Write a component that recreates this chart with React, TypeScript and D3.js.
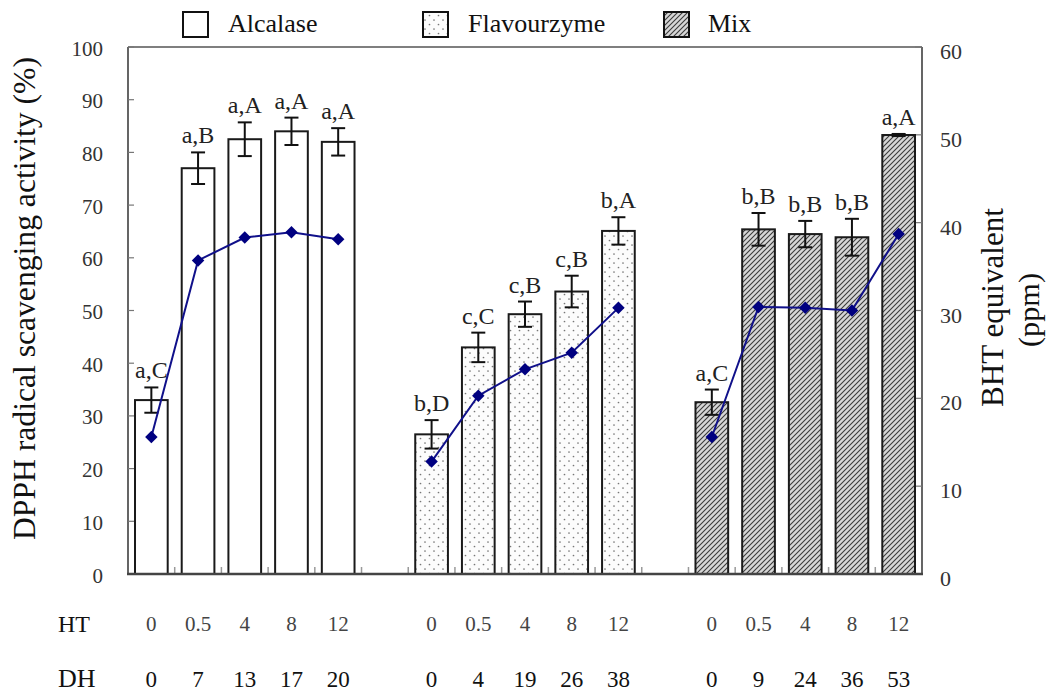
import React from "react";
import * as d3 from "d3";

// ---- data ----
const groups = ["Alcalase", "Flavourzyme", "Mix"];
const htLabels = ["0", "0.5", "4", "8", "12"];
const dhAlcalase = ["0", "7", "13", "17", "20"];
const dhFlavourzyme = ["0", "4", "19", "26", "38"];
const dhMix = ["0", "9", "24", "36", "53"];

const dpphAlcalase = [33, 77, 82.5, 84, 82];
const dpphFlavourzyme = [26.5, 43, 49.3, 53.6, 65.1];
const dpphMix = [32.6, 65.4, 64.5, 63.9, 83.3];

const errAlcalase = [2.4, 3.0, 3.2, 2.6, 2.6];
const errFlavourzyme = [2.7, 2.8, 2.4, 3.0, 2.6];
const errMix = [2.4, 3.1, 2.5, 3.5, 0.2];

const bhtAlcalase = [15.6, 35.7, 38.3, 38.9, 38.1];
const bhtFlavourzyme = [12.8, 20.3, 23.3, 25.2, 30.3];
const bhtMix = [15.6, 30.4, 30.3, 30.0, 38.7];

const lettersAlcalase = ["a,C", "a,B", "a,A", "a,A", "a,A"];
const lettersFlavourzyme = ["b,D", "c,C", "c,B", "c,B", "b,A"];
const lettersMix = ["a,C", "b,B", "b,B", "b,B", "a,A"];

const leftTicks = [0, 10, 20, 30, 40, 50, 60, 70, 80, 90, 100];
const rightTicks = [0, 10, 20, 30, 40, 50, 60];

const seriesDpph = [dpphAlcalase, dpphFlavourzyme, dpphMix];
const seriesErr = [errAlcalase, errFlavourzyme, errMix];
const seriesBht = [bhtAlcalase, bhtFlavourzyme, bhtMix];
const seriesLetters = [lettersAlcalase, lettersFlavourzyme, lettersMix];
const seriesDh = [dhAlcalase, dhFlavourzyme, dhMix];
const fills = ["#ffffff", "url(#dots)", "url(#hatch)"];

// category keys (groups separated by an empty slot)
const keys: string[] = [];
groups.forEach((g, gi) => {
  htLabels.forEach((_, i) => keys.push(`${g}-${i}`));
  if (gi < groups.length - 1) keys.push(`gap-${gi}`);
});

const W = 1051;
const H = 693;
const left = 128;
const right = 922;
const top = 47;
const bottom = 574;

const FONT = "Liberation Serif, Times New Roman, serif";
const tStyle = { fontFamily: FONT } as React.CSSProperties;

export default function App() {
  const x = d3
    .scaleBand<string>()
    .domain(keys)
    .range([left, right])
    .paddingInner(0.3)
    .paddingOuter(0.15);
  const step = x.step();
  const bw = x.bandwidth();
  const yL = d3.scaleLinear().domain([0, 100]).range([bottom, top]);
  const yR = d3.scaleLinear().domain([0, 60]).range([bottom, top]);

  const cx = (g: string, i: number) => (x(`${g}-${i}`) as number) + bw / 2;

  const line = d3
    .line<[number, number]>()
    .x((d) => d[0])
    .y((d) => d[1]);

  const diamond = d3.symbol().type(d3.symbolSquare).size(78)() as string;

  const boundaries = d3.range(1, keys.length).map((k) => left + k * step);

  const legendItems = [
    { label: groups[0], fill: fills[0], bx: 183, tx: 228 },
    { label: groups[1], fill: fills[1], bx: 423, tx: 468 },
    { label: groups[2], fill: fills[2], bx: 664, tx: 708 },
  ];

  return (
    <svg
      width={W}
      height={H}
      style={{ position: "absolute", left: 0, top: 0, background: "#fff", fontFamily: FONT }}
    >
      <defs>
        <pattern id="dots" width={9} height={9} patternUnits="userSpaceOnUse">
          <rect width={9} height={9} fill="#fcfcfc" />
          <circle cx={2} cy={2} r={0.85} fill="#777" />
          <circle cx={6.5} cy={6.5} r={0.85} fill="#777" />
        </pattern>
        <pattern id="hatch" width={5} height={5} patternUnits="userSpaceOnUse">
          <rect width={5} height={5} fill="#d6d6d6" />
          <path d="M-1,1 l2,-2 M0,5 l5,-5 M4,6 l2,-2" stroke="#3a3a3a" strokeWidth={1.1} />
        </pattern>
      </defs>

      {/* Legend */}
      {legendItems.map((l) => (
        <g key={l.label}>
          <rect x={l.bx} y={12} width={25} height={25} fill={l.fill} stroke="#111" strokeWidth={2} />
          <text x={l.tx} y={32} fontSize={26} fill="#111" style={tStyle}>
            {l.label}
          </text>
        </g>
      ))}

      {/* frame */}
      <line x1={left} x2={right} y1={top} y2={top} stroke="#555" strokeWidth={1.6} />
      <line x1={left} x2={left} y1={top} y2={bottom} stroke="#555" strokeWidth={1.8} />
      <line x1={right} x2={right} y1={top} y2={bottom} stroke="#555" strokeWidth={1.8} />

      {/* left ticks */}
      {leftTicks.map((t) => (
        <g key={`l${t}`}>
          <line x1={left} x2={left + 6} y1={yL(t)} y2={yL(t)} stroke="#777" strokeWidth={1.2} />
          <text x={103} y={yL(t) + 8.5} fontSize={21} textAnchor="end" fill="#333" style={tStyle}>
            {t}
          </text>
        </g>
      ))}

      {/* right ticks */}
      {rightTicks.map((t) => (
        <g key={`r${t}`}>
          <line x1={right - 7} x2={right} y1={yR(t)} y2={yR(t)} stroke="#777" strokeWidth={1.2} />
          <text x={940} y={yR(t) + 12} fontSize={22} fill="#333" style={tStyle}>
            {t}
          </text>
        </g>
      ))}

      {/* bars */}
      {groups.map((g, gi) =>
        seriesDpph[gi].map((v, i) => (
          <rect
            key={`b${g}${i}`}
            x={x(`${g}-${i}`)}
            y={yL(v)}
            width={bw}
            height={yL(0) - yL(v)}
            fill={fills[gi]}
            stroke="#1a1a1a"
            strokeWidth={2}
          />
        ))
      )}

      {/* bottom boundary ticks */}
      {boundaries.map((b, i) => (
        <line key={`bt${i}`} x1={b} x2={b} y1={bottom} y2={bottom - 7} stroke="#999" strokeWidth={1.5} />
      ))}

      {/* bottom axis */}
      <line x1={left - 1} x2={right + 1} y1={bottom} y2={bottom} stroke="#444" strokeWidth={2.6} />

      {/* error bars */}
      {groups.map((g, gi) =>
        seriesDpph[gi].map((v, i) => {
          const e = seriesErr[gi][i];
          const c = cx(g, i);
          return (
            <g key={`e${g}${i}`} stroke="#111" strokeWidth={2}>
              <line x1={c} x2={c} y1={yL(v + e)} y2={yL(v - e)} />
              <line x1={c - 7} x2={c + 7} y1={yL(v + e)} y2={yL(v + e)} />
              <line x1={c - 7} x2={c + 7} y1={yL(v - e)} y2={yL(v - e)} />
            </g>
          );
        })
      )}

      {/* significance letters */}
      {groups.map((g, gi) =>
        seriesLetters[gi].map((s, i) => {
          const v = seriesDpph[gi][i] + seriesErr[gi][i];
          return (
            <text
              key={`t${g}${i}`}
              x={cx(g, i)}
              y={yL(v) - 9}
              fontSize={24}
              textAnchor="middle"
              fill="#222"
              style={tStyle}
            >
              {s}
            </text>
          );
        })
      )}

      {/* BHT lines */}
      {groups.map((g, gi) => {
        const pts: [number, number][] = seriesBht[gi].map((v, i) => [cx(g, i), yR(v)]);
        return (
          <g key={`line${g}`}>
            <path d={line(pts) as string} fill="none" stroke="#10108a" strokeWidth={2} />
            {pts.map((p, i) => (
              <path
                key={i}
                d={diamond}
                transform={`translate(${p[0]},${p[1]}) rotate(45)`}
                fill="#000080"
              />
            ))}
          </g>
        );
      })}

      {/* HT / DH rows */}
      <text x={58} y={632} fontSize={24} fill="#111" style={tStyle}>HT</text>
      <text x={58} y={687} fontSize={26} fill="#111" style={tStyle}>DH</text>
      {groups.map((g, gi) =>
        htLabels.map((h, i) => (
          <g key={`row${g}${i}`}>
            <text x={cx(g, i)} y={631} fontSize={21} textAnchor="middle" fill="#444" style={tStyle}>
              {h}
            </text>
            <text x={cx(g, i)} y={687} fontSize={23} textAnchor="middle" fill="#111" style={tStyle}>
              {seriesDh[gi][i]}
            </text>
          </g>
        ))
      )}

      {/* axis titles */}
      <text
        transform={`translate(35,${(57 + 540) / 2}) rotate(-90)`}
        fontSize={31}
        textAnchor="middle"
        fill="#111"
        textLength={483}
        lengthAdjust="spacingAndGlyphs"
        style={tStyle}
      >
        DPPH radical scavenging activity (%)
      </text>
      <text
        transform={`translate(1003,${(208 + 407) / 2}) rotate(-90)`}
        fontSize={31}
        textAnchor="middle"
        fill="#111"
        textLength={199}
        lengthAdjust="spacingAndGlyphs"
        style={tStyle}
      >
        BHT equivalent
      </text>
      <text
        transform={`translate(1039,310) rotate(-90)`}
        fontSize={29}
        textAnchor="middle"
        fill="#111"
        textLength={74}
        lengthAdjust="spacingAndGlyphs"
        style={tStyle}
      >
        (ppm)
      </text>
    </svg>
  );
}
